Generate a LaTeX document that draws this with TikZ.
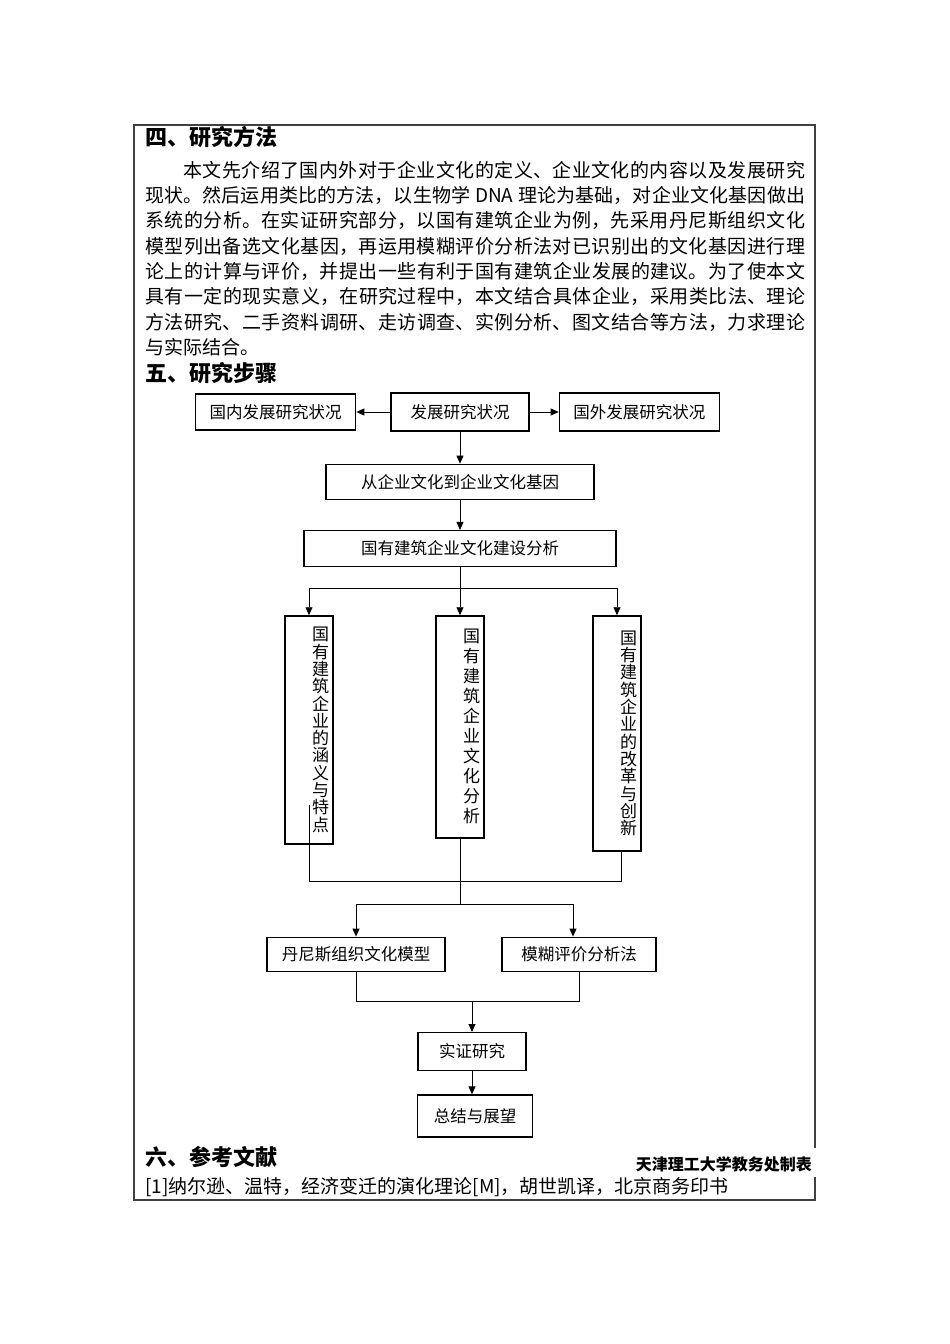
\documentclass[tikz,border=0pt]{standalone}
\usepackage{fontspec}
\setmainfont{Noto Sans CJK SC}
\usetikzlibrary{arrows.meta, positioning}
\XeTeXlinebreaklocale "zh"
\XeTeXlinebreakskip = 0pt plus 1pt
\tikzstyle{block} = [draw, line width=1.3pt, rectangle, inner sep=2pt, font=\fontsize{16.5pt}{20pt}\selectfont]
\tikzstyle{vblock} = [draw, line width=1.3pt, rectangle, minimum width=48pt]
\tikzstyle{vtext} = [text width=1em, align=center, inner sep=0pt, xshift=8pt, font=\fontsize{17pt}{17.3pt}\selectfont]
\tikzstyle{heading} = [anchor=west, inner sep=0pt, font=\bfseries\fontsize{22pt}{26pt}\selectfont]
\tikzstyle{link} = [-{Triangle[length=8pt, width=7pt]}, line width=0.9pt]
\tikzstyle{wire} = [line width=0.9pt]
\tikzstyle{frame} = [line width=1.2pt, black!75]

\begin{document}
\begin{tikzpicture}[x=1pt, y=-1pt]
    \useasboundingbox (0,0) rectangle (950,1344);
    \draw [frame] (815,1148) -- (815,125) -- (134,125) -- (134,1200) -- (815,1200) -- (815,1177);

    % Text.
    \node (method) [heading] at (145,137) {四、研究方法};
    \node (body) [anchor=north west, text width=660pt, align=justify, inner sep=0pt,
        font=\fontsize{19pt}{25.3pt}\selectfont] at (145,161) {%
        \hspace*{38pt}本文先介绍了国内外对于企业文化的定义、企业文化的内容以及发展研究\linebreak
        现状。然后运用类比的方法，以生物学 DNA 理论为基础，对企业文化基因做出\linebreak
        系统的分析。在实证研究部分，以国有建筑企业为例，先采用丹尼斯组织文化\linebreak
        模型列出备选文化基因，再运用模糊评价分析法对已识别出的文化基因进行理\linebreak
        论上的计算与评价，并提出一些有利于国有建筑企业发展的建议。为了使本文\linebreak
        具有一定的现实意义，在研究过程中，本文结合具体企业，采用类比法、理论\linebreak
        方法研究、二手资料调研、走访调查、实例分析、图文结合等方法，力求理论\linebreak
        与实际结合。};
    \node (steps) [heading] at (145,373) {五、研究步骤};
    \node (refs) [heading] at (145,1157) {六、参考文献};
    \node (maker) [anchor=east, inner sep=0pt, font=\bfseries\fontsize{16pt}{18pt}\selectfont] at (812,1164) {天津理工大学教务处制表};
    \node (ref1) [anchor=west, inner sep=0pt, font=\fontsize{19pt}{22pt}\selectfont] at (145,1187) {[1]纳尔逊、温特，经济变迁的演化理论[M]，胡世凯译，北京商务印书};

    % Boxes.
    \node (status) [block, minimum width=138pt, minimum height=38pt] at (460,412) {发展研究状况};
    \node (domestic) [block, minimum width=160pt, minimum height=36pt, left=34pt of status] {国内发展研究状况};
    \node (foreign) [block, minimum width=160pt, minimum height=38pt, right=29pt of status] {国外发展研究状况};
    \node (gene) [block, minimum width=268pt, minimum height=35pt, below=32pt of status] {从企业文化到企业文化基因};
    \node (analysis) [block, minimum width=312pt, minimum height=36pt, below=30pt of gene] {国有建筑企业文化建设分析};

    \node (branch1) [vblock, minimum height=228pt, below=48pt of analysis, xshift=-151pt,
        label={[vtext]center:国有建筑企业的涵义与特点}] {};
    \node (branch2) [vblock, minimum height=222pt, below=48pt of analysis,
        label={[vtext, font=\fontsize{17pt}{20pt}\selectfont]center:国有建筑企业文化分析}] {};
    \node (branch3) [vblock, minimum height=235pt, below=48pt of analysis, xshift=157pt,
        label={[vtext]center:国有建筑企业的改革与创新}] {};

    \coordinate [below=43pt of branch2] (join1);
    \coordinate [below=23pt of join1] (split);

    \node (dennison) [block, minimum width=178pt, minimum height=34pt, below=32pt of split, xshift=-104pt] {丹尼斯组织文化模型};
    \node (fuzzy) [block, minimum width=154pt, minimum height=34pt, below=32pt of split, xshift=119pt] {模糊评价分析法};

    \coordinate (join2) at (472,1001);
    \node (case) [block, minimum width=108pt, minimum height=38pt, below=31pt of join2] {实证研究};
    \node (summary) [block, minimum width=115pt, minimum height=42pt, below=23pt of case, xshift=3pt] {总结与展望};

    % Arrows.
    \draw [link] (status) -- (domestic);
    \draw [link] (status) -- (foreign);
    \draw [link] (status) -- (gene);
    \draw [link] (gene) -- (analysis);
    \draw [link] (analysis) -- (branch2);
    \foreach \b in {branch1, branch3} {
        \draw [link] (analysis.south) -- ++(0,21) -| (\b.north);
    }

    \draw [wire] ([yshift=40pt]branch1.south) |- (join1) -| ([xshift=4pt]branch3.south);
    \draw [wire] (branch2.south) -- (split);
    \draw [link] (split) -| (dennison.north);
    \draw [link] (split) -| ([xshift=-6pt]fuzzy.north);

    \draw [wire] (dennison.south) |- (join2) -| (fuzzy.south);
    \draw [link] (join2) -- (case);
    \draw [link] (case.south) -- (case.south |- summary.north);
\end{tikzpicture}
\end{document}
